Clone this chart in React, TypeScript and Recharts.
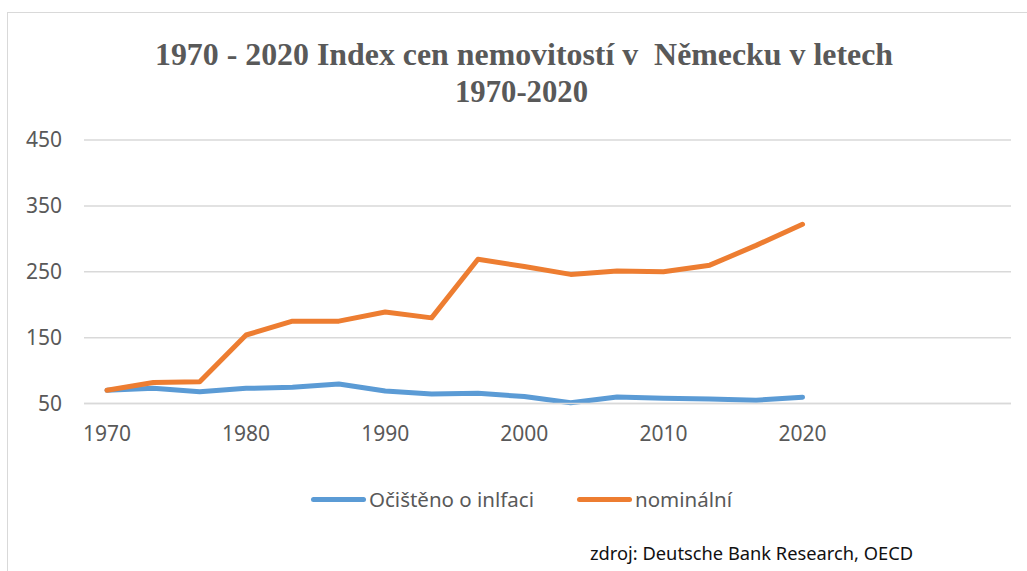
import React from 'react';
import { LineChart, Line, XAxis, YAxis, CartesianGrid } from 'recharts';

// rok (popisky kategorii) – za rokem 2020 zůstávají prázdné kategorie jako v originále
const years = [
  '1970', '1973', '1976', '1980', '1983', '1986', '1990', '1993',
  '1996', '2000', '2003', '2006', '2010', '2013', '2016', '2020',
  ' ', '  ', '   ', '    ',
];

// očištěno o inflaci
const realIndex = [70, 73, 68, 73, 74.5, 79.5, 69, 64.5, 65.5, 60.5, 51, 60, 58, 57, 55, 59.5];

// nominální
const nominalIndex = [70, 82, 83, 154, 175, 175, 189, 180, 269, 258, 246, 251, 250, 260, 290, 322];

const yTicks = [50, 150, 250, 350, 450];

const data = years.map((year, i) => ({
  year,
  real: realIndex[i],
  nominal: nominalIndex[i],
}));

const FONT = '"Noto Sans", sans-serif';
const GRAY = '#595959';
const BLUE = '#5B9BD5';
const ORANGE = '#ED7D31';

function ChartLegend() {
  const items = [
    { label: 'Očištěno o inlfaci', color: BLUE },
    { label: 'nominální', color: ORANGE },
  ];
  return (
    <div style={{ display: 'flex', alignItems: 'center', fontFamily: FONT, fontSize: 20.5, color: GRAY }}>
      {items.map((it, i) => (
        <div key={it.label} style={{ display: 'flex', alignItems: 'center', marginRight: i === 0 ? 43 : 0 }}>
          <span
            style={{
              display: 'inline-block',
              width: 55,
              height: 5,
              borderRadius: 3,
              background: it.color,
              marginRight: 3,
            }}
          />
          <span>{it.label}</span>
        </div>
      ))}
    </div>
  );
}

export default function App() {
  return (
    <div style={{ position: 'absolute', left: 0, top: 0, width: 1027, height: 571, overflow: 'hidden', background: '#fff' }}>
      {/* rámeček grafu */}
      <div
        style={{
          position: 'absolute',
          left: 7,
          top: 12,
          width: 1100,
          height: 700,
          border: '1.5px solid #d9d9d9',
        }}
      />

      {/* nadpis */}
      <svg width={1027} height={120} style={{ position: 'absolute', left: 0, top: 0 }}>
        <text
          x={155}
          y={64.5}
          textLength={738}
          lengthAdjust="spacingAndGlyphs"
          fontFamily='"Liberation Serif", serif'
          fontWeight="bold"
          fontSize={32.5}
          fill={GRAY}
          style={{ whiteSpace: 'pre' }}
        >
          1970 - 2020 Index cen nemovitostí v  Německu v letech
        </text>
        <text
          x={455}
          y={102}
          textLength={133}
          lengthAdjust="spacingAndGlyphs"
          fontFamily='"Liberation Serif", serif'
          fontWeight="bold"
          fontSize={32.5}
          fill={GRAY}
        >
          1970-2020
        </text>
      </svg>

      <div style={{ position: 'absolute', left: 0, top: 0 }}>
        <LineChart width={1027} height={571} data={data} margin={{ top: 140, right: 16, bottom: 137.5, left: 0 }}>
          <CartesianGrid vertical={false} stroke="#d9d9d9" strokeWidth={1.5} />
          <XAxis
            dataKey="year"
            interval={2}
            padding={{ left: 23, right: 23 }}
            height={30}
            tickLine={false}
            axisLine={{ stroke: '#d9d9d9', strokeWidth: 1.5 }}
            tickSize={0}
            tickMargin={23}
            tick={{ fill: GRAY, fontSize: 21, fontFamily: FONT }}
          />
          <YAxis
            domain={[50, 450]}
            ticks={yTicks}
            width={84}
            tickLine={false}
            axisLine={false}
            tickSize={0}
            tickMargin={22}
            tick={{ fill: GRAY, fontSize: 21, fontFamily: FONT }}
          />
          <Line
            dataKey="real"
            name="Očištěno o inlfaci"
            stroke={BLUE}
            strokeWidth={5}
            strokeLinecap="round"
            strokeLinejoin="round"
            dot={false}
            isAnimationActive={false}
          />
          <Line
            dataKey="nominal"
            name="nominální"
            stroke={ORANGE}
            strokeWidth={5}
            strokeLinecap="round"
            strokeLinejoin="round"
            dot={false}
            isAnimationActive={false}
          />
        </LineChart>
      </div>

      {/* legenda */}
      <div style={{ position: 'absolute', left: 311, top: 485 }}>
        <ChartLegend />
      </div>

      {/* zdroj */}
      <div
        style={{
          position: 'absolute',
          left: 590,
          top: 540,
          fontFamily: FONT,
          fontSize: 18.3,
          color: '#111',
          whiteSpace: 'nowrap',
        }}
      >
        zdroj: Deutsche Bank Research, OECD
      </div>
    </div>
  );
}
